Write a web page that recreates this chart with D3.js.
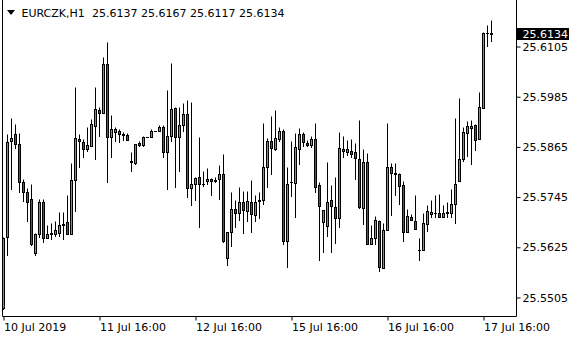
<!DOCTYPE html>
<html>
<head>
<meta charset="utf-8">
<script src="https://cdn.jsdelivr.net/npm/d3@7"></script>
<style>
  body { margin: 0; background: #fff; }
  svg { display: block; font-family: "DejaVu Sans", sans-serif; }
</style>
</head>
<body>
<svg id="chart" width="580" height="340"></svg>
<script>
// EURCZK H1, 10 Jul 16:00 .. 17 Jul 18:00
const symbol = "EURCZK,H1";
const lastQuote = ["25.6137", "25.6167", "25.6117", "25.6134"];

const open = [25.5479,25.5648,25.5878,25.5894,25.5870,25.5780,25.5756,25.5740,25.5610,25.5656,
  25.5733,25.5646,25.5656,25.5656,25.5658,25.5677,25.5685,25.5656,25.5784,25.5882,
  25.5876,25.5858,25.5866,25.5914,25.5951,25.5946,25.6061,25.5888,25.5900,25.5901,
  25.5893,25.5892,25.5828,25.5826,25.5874,25.5868,25.5888,25.5888,25.5903,25.5902,
  25.5912,25.5851,25.5890,25.5956,25.5888,25.5916,25.5943,25.5766,25.5776,25.5792,
  25.5776,25.5782,25.5788,25.5782,25.5788,25.5798,25.5598,25.5661,25.5716,25.5706,
  25.5733,25.5710,25.5733,25.5700,25.5734,25.5736,25.5816,25.5879,25.5859,25.5883,
  25.5903,25.5640,25.5779,25.5778,25.5858,25.5894,25.5874,25.5868,25.5883,25.5772,
  25.5684,25.5674,25.5736,25.5721,25.5694,25.5859,25.5851,25.5855,25.5852,25.5836,
  25.5718,25.5828,25.5632,25.5646,25.5686,25.5574,25.5664,25.5816,25.5802,25.5798,
  25.5772,25.5661,25.5697,25.5686,25.5617,25.5617,25.5680,25.5704,25.5706,25.5706,
  25.5696,25.5706,25.5706,25.5728,25.5782,25.5835,25.5898,25.5910,25.5915,25.5883,
  25.5956,25.6135,25.6137];
const high = [25.5649,25.5894,25.5932,25.5918,25.5898,25.5786,25.5766,25.5776,25.5657,25.5740,
  25.5740,25.5676,25.5681,25.5686,25.5708,25.5708,25.5748,25.5826,25.6006,25.5895,
  25.5882,25.5911,25.5930,25.6006,25.5960,25.6079,25.6115,25.5939,25.5912,25.5906,
  25.5899,25.5898,25.5852,25.5870,25.5877,25.5890,25.5888,25.5906,25.5903,25.5915,
  25.5915,25.6001,25.6064,25.5958,25.5958,25.5968,25.5975,25.5970,25.5792,25.5888,
  25.5806,25.5814,25.5790,25.5791,25.5820,25.5846,25.5661,25.5757,25.5738,25.5769,
  25.5759,25.5759,25.5784,25.5750,25.5756,25.5920,25.5886,25.5937,25.5951,25.5912,
  25.5906,25.5816,25.5879,25.5896,25.5908,25.5899,25.5880,25.5890,25.5920,25.5780,
  25.5712,25.5828,25.5772,25.5792,25.5900,25.5891,25.5880,25.5882,25.5874,25.5927,
  25.5859,25.5850,25.5678,25.5698,25.5688,25.5681,25.5922,25.5826,25.5826,25.5802,
  25.5782,25.5716,25.5704,25.5748,25.5645,25.5706,25.5726,25.5738,25.5748,25.5752,
  25.5726,25.5733,25.5762,25.5932,25.5980,25.5912,25.5926,25.5927,25.5918,25.5995,
  25.6138,25.6155,25.6167];
const low = [25.5477,25.5605,25.5764,25.5862,25.5755,25.5734,25.5686,25.5630,25.5606,25.5648,
  25.5636,25.5646,25.5644,25.5650,25.5650,25.5644,25.5656,25.5656,25.5710,25.5815,
  25.5839,25.5855,25.5866,25.5836,25.5891,25.5946,25.5779,25.5839,25.5878,25.5876,
  25.5880,25.5880,25.5806,25.5824,25.5867,25.5867,25.5888,25.5888,25.5903,25.5902,
  25.5839,25.5762,25.5878,25.5768,25.5806,25.5903,25.5744,25.5724,25.5736,25.5672,
  25.5770,25.5776,25.5750,25.5780,25.5740,25.5636,25.5581,25.5626,25.5672,25.5688,
  25.5658,25.5686,25.5661,25.5686,25.5694,25.5728,25.5768,25.5800,25.5856,25.5878,
  25.5632,25.5577,25.5746,25.5696,25.5822,25.5866,25.5867,25.5863,25.5755,25.5593,
  25.5612,25.5652,25.5612,25.5633,25.5672,25.5839,25.5844,25.5840,25.5788,25.5717,
  25.5680,25.5632,25.5632,25.5632,25.5566,25.5574,25.5664,25.5700,25.5748,25.5728,
  25.5638,25.5661,25.5688,25.5668,25.5593,25.5617,25.5662,25.5696,25.5696,25.5696,
  25.5696,25.5696,25.5696,25.5681,25.5782,25.5830,25.5843,25.5822,25.5856,25.5883,
  25.5956,25.6105,25.6117];
const close = [25.5647,25.5876,25.5886,25.5870,25.5779,25.5755,25.5732,25.5632,25.5656,25.5733,
  25.5646,25.5656,25.5657,25.5664,25.5678,25.5680,25.5656,25.5784,25.5884,25.5878,
  25.5859,25.5868,25.5918,25.5954,25.5945,25.6061,25.5888,25.5906,25.5906,25.5895,
  25.5895,25.5880,25.5830,25.5870,25.5868,25.5888,25.5888,25.5903,25.5903,25.5911,
  25.5851,25.5891,25.5955,25.5887,25.5917,25.5942,25.5766,25.5776,25.5790,25.5776,
  25.5776,25.5788,25.5782,25.5784,25.5800,25.5638,25.5661,25.5716,25.5706,25.5733,
  25.5713,25.5734,25.5704,25.5733,25.5736,25.5816,25.5879,25.5862,25.5886,25.5903,
  25.5640,25.5776,25.5779,25.5864,25.5895,25.5876,25.5868,25.5883,25.5768,25.5722,
  25.5712,25.5733,25.5722,25.5694,25.5862,25.5854,25.5858,25.5848,25.5838,25.5720,
  25.5828,25.5632,25.5646,25.5688,25.5577,25.5664,25.5816,25.5802,25.5798,25.5770,
  25.5661,25.5698,25.5688,25.5668,25.5617,25.5682,25.5710,25.5708,25.5706,25.5696,
  25.5706,25.5709,25.5728,25.5774,25.5835,25.5900,25.5914,25.5914,25.5880,25.5958,
  25.6135,25.6135,25.6134];

const xTickIndex = [0, 24, 48, 72, 96, 120];
const xTickLabels = ["10 Jul 2019", "11 Jul 16:00", "12 Jul 16:00", "15 Jul 16:00", "16 Jul 16:00", "17 Jul 16:00"];
const yTicks = [25.6105, 25.5985, 25.5865, 25.5745, 25.5625, 25.5505];

const n = open.length;
const svg = d3.select("#chart");
const plotRight = 516.5, plotBottom = 316.5;

const x = d3.scaleLinear().domain([0, n - 1]).range([3.5, 3.5 + 4 * (n - 1)]);
const y = d3.scaleLinear().domain([25.5505, 25.6105]).range([297.5, 46.5]);
const py = v => Math.round(y(v) - 0.5) + 0.5;

const green = "#3fbf3f", red = "#e01b1b";

// candles
const candles = svg.append("g");
d3.range(n).forEach(i => {
  const cx = x(i);
  const g = candles.append("g");
  g.append("line")
    .attr("x1", cx).attr("x2", cx)
    .attr("y1", py(high[i])).attr("y2", py(low[i]) + 0.5)
    .attr("stroke", "#000").attr("stroke-width", 1);
  const top = py(Math.max(open[i], close[i]));
  const bot = py(Math.min(open[i], close[i]));
  if (bot - top < 1) {
    g.append("line")
      .attr("x1", cx - 1.5).attr("x2", cx + 1.5)
      .attr("y1", top).attr("y2", top)
      .attr("stroke", "#000");
  } else {
    g.append("rect")
      .attr("x", cx - 1).attr("y", top)
      .attr("width", 2).attr("height", bot - top)
      .attr("fill", close[i] >= open[i] ? green : red)
      .attr("stroke", "#000").attr("stroke-width", 1);
  }
});

// frame
svg.append("path")
  .attr("d", `M2.5,0V${plotBottom}H${plotRight}V0`)
  .attr("fill", "none").attr("stroke", "#000");

// price axis
const yAxis = svg.append("g")
  .attr("transform", `translate(${plotRight},0)`)
  .call(d3.axisRight(y).tickValues(yTicks).tickSize(4).tickPadding(2).tickFormat(d3.format(".4f")));
yAxis.select(".domain").remove();
yAxis.selectAll("text").attr("font-size", 11).attr("font-family", "DejaVu Sans").attr("fill", "#000");

// time axis
const xAxis = svg.append("g")
  .attr("transform", `translate(0,${plotBottom})`)
  .call(d3.axisBottom(x).tickValues(xTickIndex).tickSize(4).tickPadding(3)
    .tickFormat((d, i) => xTickLabels[i]));
xAxis.select(".domain").remove();
xAxis.selectAll("text").attr("font-size", 11).attr("font-family", "DejaVu Sans")
  .attr("fill", "#000").attr("text-anchor", "start").attr("x", 0);

// last price label
const lastY = y(close[n - 1]);
svg.append("rect").attr("x", 517).attr("y", Math.round(lastY) - 6).attr("width", 52).attr("height", 12).attr("fill", "#000");
svg.append("text").attr("x", 522.5).attr("y", Math.round(lastY) + 4)
  .attr("font-size", 11).attr("fill", "#fff").text(lastQuote[3]);

// header
svg.append("path").attr("d", "M7,10H15L11,15Z").attr("fill", "#000");
svg.append("text").attr("x", 21.5).attr("y", 17).attr("font-size", 11).text(symbol);
svg.append("text").attr("x", 92).attr("y", 17).attr("font-size", 11)
  .attr("xml:space", "preserve").text(lastQuote.join(" "));
</script>
</body>
</html>
